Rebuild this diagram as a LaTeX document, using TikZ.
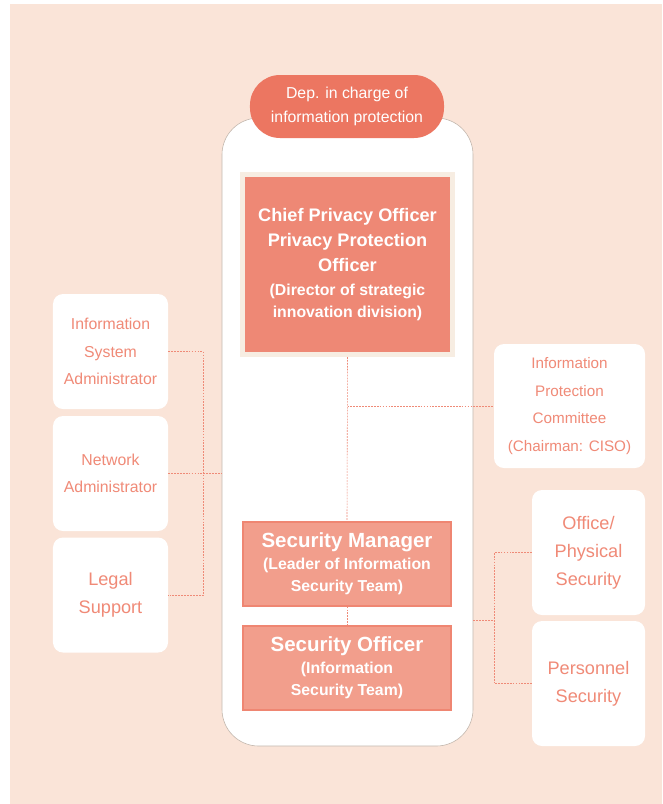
\documentclass[tikz,border=0pt]{standalone}
\usepackage{fontspec}
\setmainfont{Liberation Sans}
\usepackage{tikz}

\definecolor{peach}{HTML}{FAE4D8}
\definecolor{coral}{HTML}{EC7661}
\definecolor{chieffill}{HTML}{EE8875}
\definecolor{chiefrim}{HTML}{F7EDE2}
\definecolor{secfill}{HTML}{F29E8C}
\definecolor{secrim}{HTML}{EF8672}
\definecolor{sidetext}{HTML}{F08A77}
\definecolor{linkcol}{HTML}{EF8A77}
\definecolor{rimgray}{HTML}{C2B6AC}

\newcommand{\smallbold}[1]{{\fontsize{13.5}{18.8}\selectfont #1}}

\tikzset{
  container/.style={draw=rimgray, fill=white, rounded corners=1.1cm, line width=0.5pt,
    minimum width=7.53cm, minimum height=18.84cm},
  pill/.style={fill=coral, text=white, rounded corners=0.9cm, align=center,
    minimum width=5.82cm, minimum height=1.89cm,
    font=\fontsize{13.5}{21}\selectfont},
  chiefbox/.style={fill=chieffill, draw=chiefrim, line width=0.15cm, text=white, align=center,
    minimum width=6.3cm, minimum height=5.4cm, font=\fontsize{15.5}{21.3}\selectfont\bfseries},
  secbox/.style={fill=secfill, draw=secrim, line width=1pt, text=white, align=center,
    minimum width=6.24cm, minimum height=2.52cm, font=\fontsize{17.5}{18.8}\selectfont\bfseries},
  sidebox/.style={fill=white, rounded corners=0.3cm, text=sidetext, align=center},
  link/.style={draw=linkcol, line width=0.5pt, dash pattern=on 1.5pt off 1pt}
}

\begin{document}
\begin{tikzpicture}[x=0.03cm, y=-0.03cm]

% page and background
\useasboundingbox (0,0) rectangle (662,804);
\fill[peach] (10,4) rectangle (662,804);

% central column
\node at (347.5,432) (frame) [container] {};
\node at (347,106.5) (dep) [pill] {Dep. in charge of\\information protection};
\node at (347.5,264.5) (cpo) [chiefbox]
  {Chief Privacy Officer\\Privacy Protection\\Officer\\[-1pt]
   \smallbold{(Director of strategic}\\[-2.5pt]\smallbold{innovation division)}};
\node at (347,564) (secman) [secbox]
  {Security Manager\\\smallbold{(Leader of Information}\\\smallbold{Security Team)}};
\node at (347,668) (secoff) [secbox]
  {Security Officer\\\smallbold{(Information}\\\smallbold{Security Team)}};

% left side
\node at (110.5,351.5) (sysadm) [sidebox, minimum width=3.45cm, minimum height=3.45cm,
  font=\fontsize{13.5}{23.5}\selectfont] {Information\\System\\Administrator};
\node at (110.5,473.5) (netadm) [sidebox, minimum width=3.45cm, minimum height=3.45cm,
  font=\fontsize{13.5}{23.5}\selectfont] {Network\\Administrator};
\node at (110.5,595) (legal) [sidebox, minimum width=3.45cm, minimum height=3.45cm,
  font=\fontsize{15.5}{23.5}\selectfont] {Legal\\Support};

% right side
\node at (569.5,406) (committee) [sidebox, minimum width=4.53cm, minimum height=3.72cm,
  font=\fontsize{13}{23.5}\selectfont] {Information\\Protection\\Committee\\(Chairman: CISO)};
\node at (588.5,552.5) (office) [sidebox, minimum width=3.39cm, minimum height=3.75cm,
  font=\fontsize{15.5}{24}\selectfont] {Office/\\Physical\\Security};
\node at (588.5,683.5) (personnel) [sidebox, minimum width=3.39cm, minimum height=3.75cm,
  font=\fontsize{15.5}{24}\selectfont] {Personnel\\Security};

% connectors
\draw[link] (cpo.south) -- (secman.north);
\draw[link] (cpo.south |- committee.west) -- (committee.west);
\draw[link] (secman.south) -- (secoff.north);
\draw[link] (sysadm.east) -- ++(35,0) |- (legal.east);
\draw[link] (netadm.east) -- (netadm.east -| frame.west);
\coordinate (rjoin) at (494,620);
\draw[link] (office.west) -- (office.west -| rjoin) |- (personnel.west);
\draw[link] (frame.east |- rjoin) -- (rjoin);

\end{tikzpicture}
\end{document}
